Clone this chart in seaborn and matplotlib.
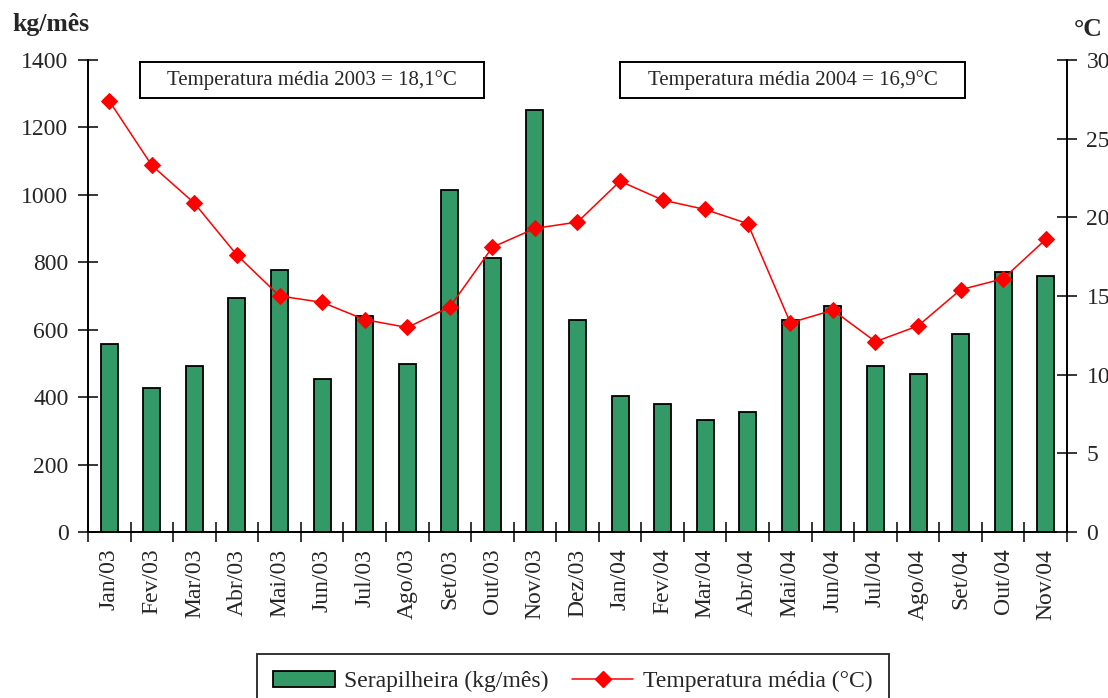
# Serapilheira mensal x temperatura média (2003-2004)
import numpy as np
import pandas as pd
import matplotlib
matplotlib.use("Agg")
import matplotlib.pyplot as plt
from matplotlib.patches import Rectangle, Patch
from matplotlib.lines import Line2D
import seaborn as sns

# Dados
meses = ["Jan/03", "Fev/03", "Mar/03", "Abr/03", "Mai/03", "Jun/03", "Jul/03",
         "Ago/03", "Set/03", "Out/03", "Nov/03", "Dez/03", "Jan/04", "Fev/04",
         "Mar/04", "Abr/04", "Mai/04", "Jun/04", "Jul/04", "Ago/04", "Set/04",
         "Out/04", "Nov/04"]
serapilheira = [557, 426, 492, 694, 777, 455, 640, 498, 1014, 812, 1252, 628,
                403, 379, 332, 355, 628, 670, 492, 468, 587, 772, 759]
temperatura = [27.4, 23.3, 20.9, 17.6, 15.0, 14.6, 13.5, 13.0, 14.3, 18.1, 19.3,
               19.7, 22.3, 21.1, 20.5, 19.6, 13.3, 14.1, 12.1, 13.1, 15.4, 16.1, 18.6]
yticks_kg = [0, 200, 400, 600, 800, 1000, 1200, 1400]
yticks_c = [0, 5, 10, 15, 20, 25, 30]
textos = ["Temperatura média 2003 = 18,1°C", "Temperatura média 2004 = 16,9°C"]

sns.set_style("white")
plt.rcParams["font.family"] = ["Liberation Serif", "DejaVu Serif"]

df = pd.DataFrame({"mes": meses, "kg": serapilheira, "temp": temperatura,
                   "pos": np.arange(len(meses))})

fig = plt.figure(figsize=(11.08, 6.98), dpi=100)
ax = fig.add_axes([0.0794, 0.2378, 0.8836, 0.6762])

sns.barplot(data=df, x="mes", y="kg", color="#339966", saturation=1,
            edgecolor="black", linewidth=1.3, width=0.4, ax=ax)
ax.set_xlim(-0.5, len(meses) - 0.5)
ax.set_ylim(0, 1400)
ax.set_yticks(yticks_kg)
ax.set_xlabel("")
ax.set_ylabel("")

ax2 = ax.twinx()
sns.lineplot(data=df, x="pos", y="temp", sort=False, color="red", lw=1.1,
             marker="D", markersize=8, markeredgecolor="red", ax=ax2)
ax2.set_ylim(0, 30)
ax2.set_yticks(yticks_c)
ax2.set_ylabel("")
ax2.set_xlim(-0.5, len(meses) - 0.5)

for a in (ax, ax2):
    for s in a.spines.values():
        s.set_linewidth(1.4)
        s.set_color("black")
    a.spines["top"].set_visible(False)

ax.spines["right"].set_visible(False)
ax2.spines["left"].set_visible(False)
ax2.spines["bottom"].set_visible(False)

ax.tick_params(axis="y", direction="inout", length=14, width=1.3, pad=7,
               labelsize=17, left=True)
ax2.tick_params(axis="y", direction="inout", length=14, width=1.3, pad=7,
                labelsize=17, right=True)
ax.set_xticks(np.arange(len(meses)))
ax.set_xticklabels(meses, rotation=90, fontsize=17)
ax.tick_params(axis="x", which="major", length=0, pad=12)
ax.set_xticks(np.arange(len(meses) + 1) - 0.5, minor=True)
ax.tick_params(axis="x", which="minor", direction="inout", length=14, width=1.3,
               bottom=True)

# caixas das temperaturas médias
for (x0, x1), txt in zip([(0.0531, 0.4045), (0.5434, 0.8958)], textos):
    ax.add_patch(Rectangle((x0, 0.9195), x1 - x0, 0.0763, transform=ax.transAxes,
                           fill=False, edgecolor="black", lw=1.4, clip_on=False,
                           zorder=5))
    ax.text((x0 + x1) / 2, 0.9577, txt, transform=ax.transAxes, ha="center",
            va="center", fontsize=15)

fig.text(12 / 1108, 1 - 25 / 698, "kg/mês", fontsize=18.5, fontweight="bold",
         va="center", ha="left")
fig.text(1074 / 1108, 1 - 30 / 698, "°C", fontsize=18.5, fontweight="bold",
         va="center", ha="left")

handles = [Patch(facecolor="#339966", edgecolor="black", lw=1.3),
           Line2D([], [], color="red", lw=1.1, marker="D", markersize=8)]
fig.legend(handles, ["Serapilheira (kg/mês)", "Temperatura média (°C)"],
           loc="upper center", bbox_to_anchor=(0.517, 1 - 654 / 698), ncol=2,
           fontsize=17, frameon=True, fancybox=False, edgecolor="black",
           handlelength=2.6, columnspacing=1.0, handletextpad=0.4,
           borderpad=0.7, borderaxespad=0)
fig.legends[0].get_frame().set_linewidth(1.4)

fig.savefig("out.png", dpi=100)
